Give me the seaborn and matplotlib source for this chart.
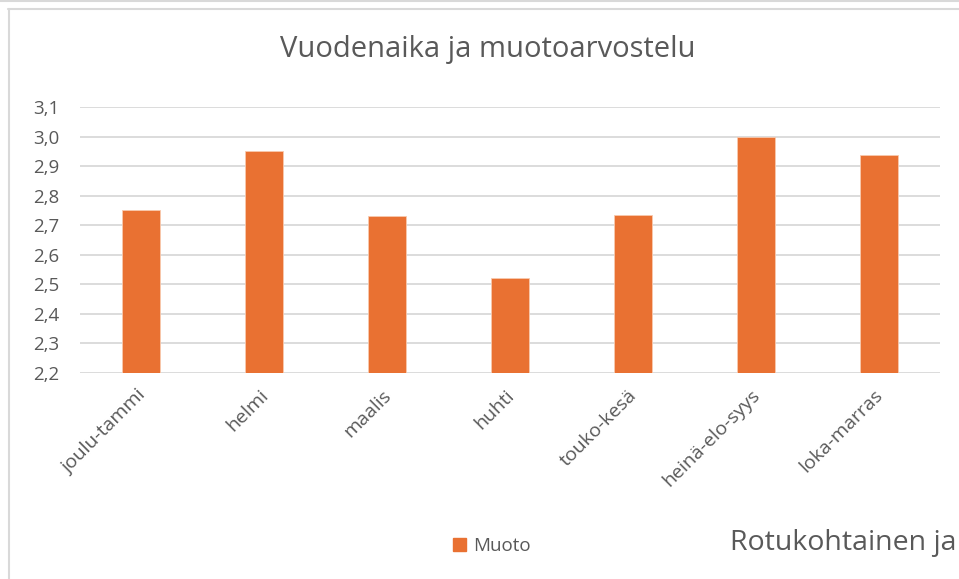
import matplotlib
matplotlib.use("Agg")
import matplotlib.pyplot as plt
import seaborn as sns
import pandas as pd
from matplotlib.ticker import FuncFormatter, MultipleLocator
from matplotlib.patches import Rectangle
from matplotlib.lines import Line2D

# --------------------------
# Data
# --------------------------
kaudet = ["joulu-tammi", "helmi", "maalis", "huhti", "touko-kesä", "heinä-elo-syys", "loka-marras"]
muoto = [2.75, 2.952, 2.73, 2.521, 2.734, 3.0, 2.939]
sarja = "Muoto"

df = pd.DataFrame({"kausi": kaudet, "arvo": muoto})

sns.set_theme(style="white")
plt.rcParams["font.family"] = ["Open Sans", "DejaVu Sans"]

ORANGE = "#E97132"
GREY_TEXT = "#595959"
GRID = "#d9d9d9"

fig = plt.figure(figsize=(9.59, 5.79), dpi=100)
ax = fig.add_axes([80 / 959, 1 - 373 / 579, 860 / 959, 266 / 579])

sns.barplot(data=df, x="kausi", y="arvo", color=ORANGE, width=0.31,
            edgecolor="#f8c9ae", linewidth=0.6, saturation=1, ax=ax, zorder=3)

ax.set_ylim(2.2, 3.1)
ax.yaxis.set_major_locator(MultipleLocator(0.1))
ax.yaxis.set_major_formatter(FuncFormatter(lambda v, p: f"{v:.1f}".replace(".", ",")))
ax.grid(axis="y", color=GRID, linewidth=1.3, zorder=0)
ax.set_axisbelow(True)
sns.despine(ax=ax, left=True, bottom=True, top=True, right=True)
ax.set_xlabel("")
ax.set_ylabel("")
ax.tick_params(axis="y", length=0, pad=15, labelsize=13.5, labelcolor=GREY_TEXT)
ax.tick_params(axis="x", length=0, pad=13, labelsize=14, labelcolor=GREY_TEXT)
plt.setp(ax.get_xticklabels(), rotation=45, ha="right", va="center_baseline", rotation_mode="anchor")

# title
fig.text(488 / 959, 1 - 50 / 579, "Vuodenaika ja muotoarvostelu", ha="center", va="center",
         fontsize=21, color=GREY_TEXT)

# legend
handles = [Rectangle((0, 0), 1, 1, color=ORANGE)]
fig.legend(handles, [sarja], loc="center", bbox_to_anchor=(492 / 959, 1 - 546 / 579),
           frameon=False, fontsize=13.5, labelcolor=GREY_TEXT, handlelength=0.65,
           handleheight=0.65, handletextpad=0.4)

# next chart's title peeking in at the bottom right
fig.text(730 / 959, 1 - 543 / 579, "Rotukohtainen ja", ha="left", va="center",
         fontsize=20.5, color=GREY_TEXT)

# chart frame
fig.add_artist(Line2D([0, 1], [1 - 1 / 579, 1 - 1 / 579], color=GRID, linewidth=1.5))
fig.add_artist(Line2D([8 / 959, 1], [1 - 9 / 579, 1 - 9 / 579], color=GRID, linewidth=1.5))
fig.add_artist(Line2D([9 / 959, 9 / 959], [0, 1 - 9 / 579], color=GRID, linewidth=1.5))

fig.savefig("out.png", dpi=100)
